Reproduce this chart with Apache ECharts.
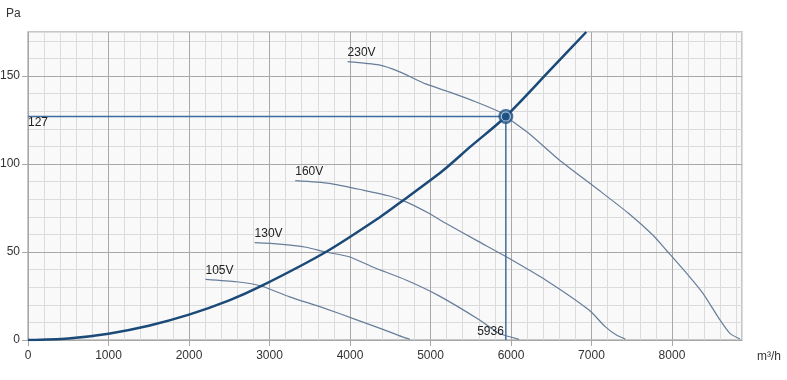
<!DOCTYPE html>
<html>
<head>
<meta charset="utf-8">
<script src="https://cdn.jsdelivr.net/npm/echarts@6/dist/echarts.min.js"></script>
<style>
html,body{margin:0;padding:0;background:#fff;}
#chart{width:787px;height:380px;}
</style>
</head>
<body>
<div id="chart"></div>
<script>
// ---- data ----
const xTicks = [0, 1000, 2000, 3000, 4000, 5000, 6000, 7000, 8000];
const yTicks = [0, 50, 100, 150];
const xMax = 8870;
const yMax = 175;

const fan230 = [[3970,158.2],[4360,156.3],[4610,152.5],[4940,145.5],[5230,141],[5560,135.4],[5850,129.8],[5936,127],[6220,117.5],[6600,102.3],[7090,85.2],[7460,72],[7765,59.5],[7930,51],[8180,38],[8385,26.5],[8596,11.4],[8720,3.8],[8845,0.6]];
const fan160 = [[3320,90.5],[3740,89],[4160,85.2],[4490,81.8],[4690,78.6],[4980,72],[5190,66.3],[5600,55.9],[5925,47.7],[6430,34.1],[6970,17],[7170,7.6],[7320,2.5],[7420,0.5]];
const fan130 = [[2815,55.3],[3125,54.5],[3455,52.7],[3695,50],[3990,47.3],[4290,41.3],[4695,34.1],[5090,25.5],[5610,11.4],[5850,3.8],[6100,0.4]];
const fan105 = [[2205,34.5],[2590,33.1],[2900,30.7],[3250,24.5],[3660,18.4],[4075,11.6],[4400,6.2],[4650,1.8],[4745,0.4]];
const systemCurve = [[0,0],[500,0.9],[1000,3.6],[1500,8.1],[2000,14.4],[2500,22.5],[2900,30.7],[3700,50],[4363,69.5],[4650,79],[5148,96],[5500,110],[5936,127],[6500,154],[6935,175]];
const fanNames = ['230V', '160V', '130V', '105V'];
const opPoint = [5936, 127];

// ---- chart ----
const chart = echarts.init(document.getElementById('chart'), null, {renderer: 'canvas'});
const fontFamily = '"Liberation Sans", Arial, sans-serif';

function fanSeries(name, pts) {
  return {
    type: 'line', name: name, z: 3, smooth: 0.2,
    showSymbol: true, symbol: 'circle', symbolSize: 0,
    lineStyle: {color: '#667d9a', width: 1.2},
    itemStyle: {color: 'rgba(0,0,0,0)'},
    silent: true,
    data: pts.map((p, i) => i === 0 ? {
      value: p,
      label: {show: true, formatter: name, position: 'top', align: 'left', distance: 3,
        color: '#222', fontSize: 12, fontFamily: fontFamily}
    } : p)
  };
}

const series = [
  fanSeries(fanNames[0], fan230),
  fanSeries(fanNames[1], fan160),
  fanSeries(fanNames[2], fan130),
  fanSeries(fanNames[3], fan105),
  {
    type: 'line', z: 4, smooth: 0.3, showSymbol: false, silent: true,
    lineStyle: {color: '#1c4a78', width: 2.5},
    data: systemCurve
  },
  {
    type: 'line', z: 5, showSymbol: true, symbolSize: 0, silent: true,
    lineStyle: {color: '#3f6e9e', width: 1.5},
    itemStyle: {color: 'rgba(0,0,0,0)'},
    data: [
      {value: [0, opPoint[1]], label: {show: true, formatter: String(opPoint[1]), position: 'bottom', align: 'left', distance: 0, offset: [0, 0], color: '#222', fontSize: 12, fontFamily: fontFamily}},
      opPoint,
      {value: [opPoint[0], 0], label: {show: true, formatter: String(opPoint[0]), position: 'top', align: 'right', distance: 2, offset: [-2, 0], color: '#222', fontSize: 12, fontFamily: fontFamily}}
    ]
  },
  {
    type: 'scatter', z: 6, silent: true, symbolSize: 15,
    itemStyle: {color: '#1d4f82'},
    data: [opPoint]
  },
  {
    type: 'scatter', z: 7, silent: true, symbolSize: 9,
    itemStyle: {color: '#1d4f82', borderColor: 'rgba(220,235,250,0.9)', borderWidth: 1.2},
    data: [opPoint]
  }
];

const option = {
  animation: false,
  textStyle: {fontFamily: fontFamily},
  grid: {left: 28, right: 45, top: 32, bottom: 40, show: true, backgroundColor: '#f9f9f9',
    borderColor: '#b5b5b5', borderWidth: 1.5, z: 0, containLabel: false, outerBoundsMode: 'none'},
  xAxis: [
    {
      type: 'value', min: 0, max: xMax, interval: 1000, z: 2,
      axisLine: {show: false},
      axisTick: {show: true, length: 6, lineStyle: {color: '#a8a8a8'}, customValues: xTicks},
      axisLabel: {color: '#333', fontSize: 12, margin: 10, customValues: xTicks, fontFamily: fontFamily,
        formatter: v => String(v)},
      splitLine: {show: true, lineStyle: {color: '#a8a8a8', width: 1}}
    },
    {
      type: 'value', min: 0, max: xMax, interval: 200, z: 1, gridIndex: 0,
      axisLine: {show: false}, axisTick: {show: false}, axisLabel: {show: false},
      splitLine: {show: true, lineStyle: {color: '#dcdcdc', width: 1}}
    }
  ],
  yAxis: [
    {
      type: 'value', min: 0, max: yMax, interval: 50, z: 2,
      axisLine: {show: false},
      axisTick: {show: true, length: 6, lineStyle: {color: '#a8a8a8'}, customValues: yTicks},
      axisLabel: {color: '#333', fontSize: 12, margin: 8, customValues: yTicks, fontFamily: fontFamily,
        formatter: v => String(v)},
      splitLine: {show: true, lineStyle: {color: '#a8a8a8', width: 1}}
    },
    {
      type: 'value', min: 0, max: yMax, interval: 10, z: 1, gridIndex: 0,
      axisLine: {show: false}, axisTick: {show: false}, axisLabel: {show: false},
      splitLine: {show: true, lineStyle: {color: '#dcdcdc', width: 1}}
    }
  ],
  graphic: [
    {type: 'text', left: 6, top: 8, style: {text: 'Pa', fill: '#333', font: '12px ' + fontFamily}},
    {type: 'text', left: 757, top: 351, style: {text: 'm³/h', fill: '#333', font: '12px ' + fontFamily}}
  ],
  series: series
};
chart.setOption(option);
</script>
</body>
</html>
